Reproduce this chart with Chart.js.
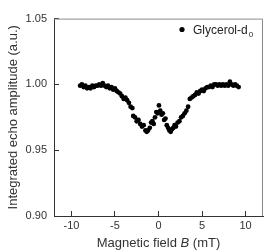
<!DOCTYPE html>
<html>
<head>
<meta charset="utf-8">
<script src="https://cdn.jsdelivr.net/npm/chart.js@4"></script>
<style>
  html, body { margin: 0; padding: 0; background: #fff; }
  #wrap { width: 269px; height: 252px; }
</style>
</head>
<body>
<div id="wrap"><canvas id="echoChart" width="269" height="252"></canvas></div>
<script>
var fieldB = [-9.0, -8.8, -8.6, -8.4, -8.2, -8.0, -7.8, -7.6, -7.4, -7.2, -7.0, -6.8, -6.6, -6.4, -6.2, -6.0,
  -5.8, -5.6, -5.4, -5.2, -5.0, -4.8, -4.6, -4.4, -4.2, -4.0, -3.8, -3.6, -3.4, -3.2, -3.0, -2.9, -2.7,
  -2.5, -2.3, -2.1, -1.9, -1.7, -1.5, -1.35, -1.2, -1.0, -0.85, -0.7, -0.55, -0.4, -0.25, -0.1, 0.05,
  0.2, 0.35, 0.5, 0.65, 0.8, 0.95, 1.1, 1.25, 1.4, 1.55, 1.7, 1.85, 2.0, 2.2, 2.4, 2.6, 2.8, 3.0, 3.2,
  3.4, 3.6, 3.8, 4.0, 4.2, 4.4, 4.6, 4.8, 5.0, 5.2, 5.4, 5.6, 5.8, 6.0, 6.2, 6.4, 6.6, 6.8, 7.0, 7.2,
  7.4, 7.6, 7.8, 8.0, 8.2, 8.4, 8.6, 8.8, 9.0, 9.2];
var echoAmp = [0.999, 1.000, 0.998, 0.999, 0.997, 0.998, 0.997, 0.999, 0.998, 0.999, 0.999, 1.000, 0.999, 1.001, 0.999, 0.998,
  0.999, 0.997, 0.998, 0.996, 0.997, 0.995, 0.994, 0.993, 0.991, 0.989, 0.990, 0.988, 0.986, 0.983, 0.982, 0.976, 0.975,
  0.972, 0.973, 0.970, 0.968, 0.969, 0.965, 0.964, 0.965, 0.967, 0.971, 0.972, 0.970, 0.975, 0.979, 0.978, 0.984,
  0.980, 0.977, 0.978, 0.973, 0.974, 0.969, 0.967, 0.965, 0.964, 0.966, 0.967, 0.969, 0.968, 0.971, 0.972, 0.975, 0.976, 0.978, 0.980,
  0.983, 0.989, 0.990, 0.991, 0.992, 0.994, 0.993, 0.995, 0.996, 0.995, 0.997, 0.998, 0.998, 0.999, 0.998, 1.000, 1.000, 0.999, 1.000, 0.999,
  1.000, 0.999, 1.000, 0.999, 1.002, 1.000, 0.999, 1.000, 0.999, 0.998];
var xTicks = [-10, -5, 0, 5, 10];
var yTicks = [0.90, 0.95, 1.00, 1.05];
var seriesName = 'Glycerol-d';
var seriesSub = '0';

var points = fieldB.map(function (b, i) { return { x: b, y: echoAmp[i] }; });

// frame (top/right) + legend + x title with italic B
var decorPlugin = {
  id: 'decor',
  afterDraw: function (chart) {
    var c = chart.ctx, a = chart.chartArea;
    c.save();
    c.strokeStyle = '#8a8a8a';
    c.lineWidth = 1;
    c.beginPath();
    c.moveTo(a.left, a.top + 0.5);
    c.lineTo(a.right - 0.5, a.top + 0.5);
    c.lineTo(a.right - 0.5, a.bottom);
    c.stroke();

    // legend
    c.fillStyle = '#000';
    c.beginPath();
    c.arc(182, 29.5, 2.6, 0, Math.PI * 2);
    c.fill();
    c.fillStyle = '#222';
    c.font = '12px "Liberation Sans", Arial, sans-serif';
    c.textBaseline = 'alphabetic';
    c.textAlign = 'left';
    c.fillText(seriesName, 193, 34);
    var w = c.measureText(seriesName).width;
    c.font = '8px "Liberation Sans", Arial, sans-serif';
    c.fillText(seriesSub, 193 + w + 1, 37);

    // x axis title
    var y = 247;
    c.fillStyle = '#333';
    var p1 = 'Magnetic field ', p2 = 'B', p3 = ' (mT)';
    c.font = '13px "Liberation Sans", Arial, sans-serif';
    var w1 = c.measureText(p1).width, w3 = c.measureText(p3).width;
    c.font = 'italic 13px "Liberation Sans", Arial, sans-serif';
    var w2 = c.measureText(p2).width;
    var x0 = (a.left + a.right) / 2 - (w1 + w2 + w3) / 2;
    c.font = '13px "Liberation Sans", Arial, sans-serif';
    c.fillText(p1, x0, y);
    c.font = 'italic 13px "Liberation Sans", Arial, sans-serif';
    c.fillText(p2, x0 + w1, y);
    c.font = '13px "Liberation Sans", Arial, sans-serif';
    c.fillText(p3, x0 + w1 + w2, y);
    c.restore();
  }
};

var ctx = document.getElementById('echoChart').getContext('2d');
var echoChart = new Chart(ctx, {
  type: 'scatter',
  data: {
    datasets: [{
      label: seriesName + seriesSub,
      data: points,
      backgroundColor: '#000',
      borderWidth: 0,
      pointRadius: 2.4,
      pointHoverRadius: 2.4
    }]
  },
  options: {
    responsive: false,
    animation: false,
    events: [],
    layout: { padding: { top: 6, right: 6, left: 0, bottom: 0 } },
    plugins: {
      legend: { display: false },
      tooltip: { enabled: false }
    },
    scales: {
      x: {
        type: 'linear',
        min: -12,
        max: 12,
        afterBuildTicks: function (scale) {
          scale.ticks = xTicks.map(function (v) { return { value: v }; });
        },
        afterFit: function (scale) { scale.height = 36; },
        border: { display: true, color: '#333', width: 1 },
        grid: { drawOnChartArea: false, drawTicks: true, tickLength: -5, color: '#333' },
        ticks: {
          padding: 8,
          color: '#333',
          font: { family: '"Liberation Sans", Arial, sans-serif', size: 11 },
          maxRotation: 0,
          callback: function (v) { return String(v); }
        }
      },
      y: {
        type: 'linear',
        min: 0.90,
        max: 1.05,
        afterBuildTicks: function (scale) {
          scale.ticks = yTicks.map(function (v) { return { value: v }; });
        },
        afterFit: function (scale) { scale.width = 54; },
        border: { display: true, color: '#333', width: 1 },
        grid: { drawOnChartArea: false, drawTicks: true, tickLength: -5, color: '#333' },
        title: {
          display: true,
          text: 'Integrated echo amplitude (a.u.)',
          color: '#333',
          padding: { top: 6, bottom: 0 },
          font: { family: '"Liberation Sans", Arial, sans-serif', size: 13 }
        },
        ticks: {
          padding: 12,
          color: '#333',
          font: { family: '"Liberation Sans", Arial, sans-serif', size: 11 },
          callback: function (v) { return v.toFixed(2); }
        }
      }
    }
  },
  plugins: [decorPlugin]
});
</script>
</body>
</html>
